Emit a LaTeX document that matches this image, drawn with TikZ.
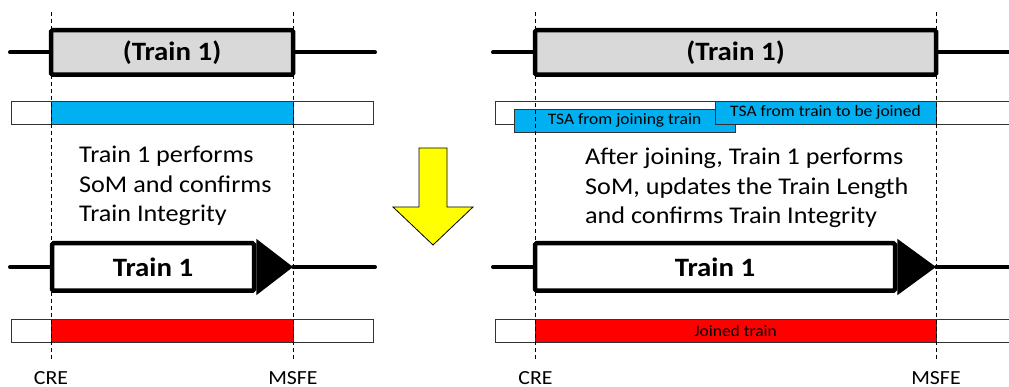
\documentclass[tikz,border=0pt]{standalone}
\usepackage{fontspec}
\setmainfont{Carlito}[FakeStretch=1.09]
\definecolor{tsablue}{HTML}{00B0F0}
\definecolor{trainred}{HTML}{FF0000}
\definecolor{traingrey}{HTML}{D9D9D9}
\definecolor{arrowyellow}{HTML}{FFFF00}

\tikzset{
  track/.style={line width=4pt, line cap=round},
  train/.style={draw, line width=4.5pt, rounded corners=1.5pt, inner sep=0pt,
    font=\bfseries\fontsize{26.5}{30}\selectfont},
  bar/.style={draw=black!80, line width=0.8pt, inner sep=0pt, minimum height=23pt},
  tsa/.style={bar, fill=tsablue, font=\fontsize{16}{20}\selectfont},
  limit/.style={dash pattern=on 4pt off 3pt, line width=0.8pt},
  limitlabel/.style={anchor=base, inner sep=0pt, font=\fontsize{20}{24}\selectfont},
  note/.style={anchor=north west, inner sep=0pt, align=left, font=\fontsize{24}{29.5}\selectfont}
}

\begin{document}
\begin{tikzpicture}[x=1pt, y=-1pt]
\useasboundingbox (0,0) rectangle (1009,387);

\node[bar, minimum width=362pt] (barL) at (192,112.5) {};
\node[bar, fill=tsablue, minimum width=242pt] (tsaL) at (172,112.5) {};
\node[bar, minimum width=362pt] (barLL) at (192,331) {};
\node[bar, fill=trainred, minimum width=242pt] (redL) at (172,331) {};

\node[bar, minimum width=520pt] (barR) at (755,112.5) {};
\node[tsa, minimum width=221pt] (tsaJoining) at (624.5,120.5) {TSA from joining train};
\node[tsa, minimum width=221pt] (tsaJoined) at (825.5,112.5) {TSA from train to be joined};
\node[bar, minimum width=520pt] (barRL) at (755,331) {};
\node[tsa, fill=trainred, minimum width=401pt] (redR) at (735.5,331) {Joined train};

\node[limitlabel] (creL) at (51,384) {CRE};
\node[limitlabel] (msfeL) at (293,384) {MSFE};
\node[limitlabel] (creR) at (535.5,384) {CRE};
\node[limitlabel] (msfeR) at (936,384) {MSFE};
\draw[limit] (51,12) -- ([yshift=9.5pt]creL.north);
\draw[limit] (293,12) -- ([yshift=9.5pt]msfeL.north);
\draw[limit] (535.5,12) -- ([yshift=9.5pt]creR.north);
\draw[limit] (936,12) -- ([yshift=9.5pt]msfeR.north);

\node[train, fill=traingrey, minimum width=242pt, minimum height=44.5pt] (oldL) at (172,52.5) {(Train 1)};
\node[train, fill=traingrey, minimum width=401pt, minimum height=44.5pt] (oldR) at (735.5,52.5) {(Train 1)};
\draw[track] (10,52.5) -- (oldL.west) (oldL.east) -- (375,52.5);
\draw[track] (493,52.5) -- (oldR.west) (oldR.east) -- (1015,52.5);

\node[train, fill=white, minimum width=202pt, minimum height=47.5pt] (newL) at (153,267) {Train 1};
\coordinate (tipL) at (293,267);
\fill ([yshift=2.25pt]newL.north east) -- (tipL) -- ([yshift=-2.25pt]newL.south east) -- cycle;
\draw[track] (10,267) -- (newL.west) (tipL) -- (375,267);

\node[train, fill=white, minimum width=360pt, minimum height=47.5pt] (newR) at (715,267) {Train 1};
\coordinate (tipR) at (936,267);
\fill ([yshift=2.25pt]newR.north east) -- (tipR) -- ([yshift=-2.25pt]newR.south east) -- cycle;
\draw[track] (493,267) -- (newR.west) (tipR) -- (1015,267);

\node[note] (noteL) at (79,146) {Train 1 performs\\SoM and confirms\\Train Integrity};
\node[note] (noteR) at (585,148) {After joining, Train 1 performs\\SoM, updates the Train Length\\and confirms Train Integrity};

\filldraw[fill=arrowyellow, draw=black, line width=0.8pt]
  (419,148) -- (447,148) -- (447,207) -- (473,207) -- (433,245)
  -- (393,207) -- (419,207) -- cycle;
\end{tikzpicture}
\end{document}
